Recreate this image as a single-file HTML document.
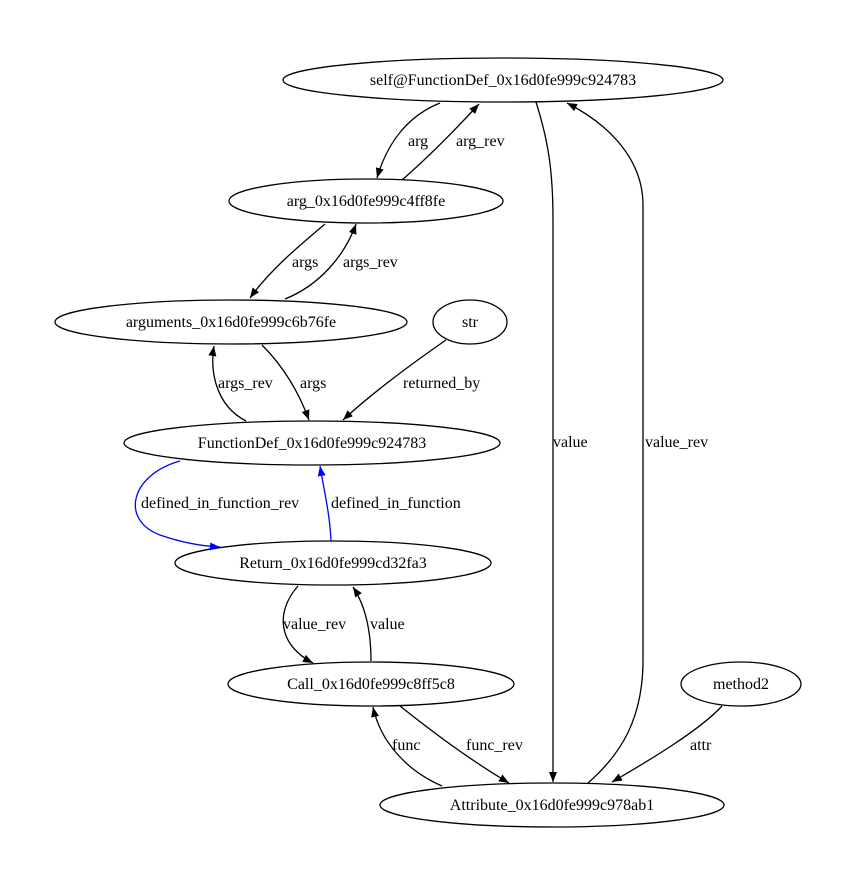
<!DOCTYPE html>
<html><head><meta charset="utf-8"><style>
html,body{margin:0;padding:0;background:#fff;}
svg{display:block;}
text{font-family:"Liberation Serif",serif;font-size:16px;fill:#000;}
</style></head><body>
<svg width="855" height="886" viewBox="0 0 855 886" xmlns="http://www.w3.org/2000/svg">
<defs>
<marker id="a" markerWidth="10" markerHeight="8" refX="10" refY="4" orient="auto" markerUnits="userSpaceOnUse"><polygon points="0,0 10,4 0,8" fill="#000"/></marker>
<marker id="b" markerWidth="10" markerHeight="8" refX="10" refY="4" orient="auto" markerUnits="userSpaceOnUse"><polygon points="0,0 10,4 0,8" fill="#00f"/></marker>
</defs>
<g fill="none" stroke="#000" stroke-width="1.3">
<ellipse cx="503" cy="80" rx="220" ry="22"/>
<ellipse cx="366" cy="201" rx="137" ry="22"/>
<ellipse cx="231" cy="322" rx="176" ry="22"/>
<ellipse cx="470" cy="322" rx="37" ry="22"/>
<ellipse cx="312" cy="443" rx="188" ry="22"/>
<ellipse cx="333" cy="563" rx="158" ry="22"/>
<ellipse cx="371" cy="684" rx="143" ry="22"/>
<ellipse cx="741" cy="684" rx="60" ry="22"/>
<ellipse cx="552" cy="805" rx="172" ry="22"/>
</g>
<g fill="none" stroke="#000" stroke-width="1.3" marker-end="url(#a)">
<path d="M440,103 C410,115 388,140 377,178"/>
<path d="M402,180 C425,160 455,130 479,104"/>
<path d="M325,224 C300,245 270,270 250,298"/>
<path d="M285,299 C320,285 345,255 356,224"/>
<path d="M246,421 C215,405 210,370 214,346"/>
<path d="M262,345 C282,365 298,390 309,420"/>
<path d="M446,340 C410,365 370,395 343,420"/>
<path d="M536,102 C548,140 553,170 553,220 L553,782"/>
<path d="M588,783 C620,755 643,720 643,660 L643,205 C643,160 610,125 567,103"/>
<path d="M298,586 C275,612 278,645 313,663"/>
<path d="M371,661 C371,630 365,605 353,587"/>
<path d="M442,786 C405,770 380,740 373,707"/>
<path d="M400,706 C430,730 470,760 509,783"/>
<path d="M722,706 C700,730 650,760 612,782"/>
</g>
<g fill="none" stroke="#00f" stroke-width="1.3" marker-end="url(#b)">
<path d="M180,461 C130,475 120,520 160,535 C180,542 200,546 220,547"/>
<path d="M331,541 C330,515 324,490 320,466"/>
</g>
<g text-anchor="middle">
<text x="503" y="85">self@FunctionDef_0x16d0fe999c924783</text>
<text x="366" y="206">arg_0x16d0fe999c4ff8fe</text>
<text x="231" y="327">arguments_0x16d0fe999c6b76fe</text>
<text x="470" y="327">str</text>
<text x="312" y="448">FunctionDef_0x16d0fe999c924783</text>
<text x="333" y="568">Return_0x16d0fe999cd32fa3</text>
<text x="371" y="689">Call_0x16d0fe999c8ff5c8</text>
<text x="741" y="689">method2</text>
<text x="552" y="810">Attribute_0x16d0fe999c978ab1</text>
</g>
<g>
<text x="408" y="146">arg</text>
<text x="456" y="146">arg_rev</text>
<text x="292" y="267">args</text>
<text x="343" y="267">args_rev</text>
<text x="218" y="388">args_rev</text>
<text x="300" y="388">args</text>
<text x="403" y="388">returned_by</text>
<text x="553" y="447">value</text>
<text x="645" y="447">value_rev</text>
<text x="141" y="508">defined_in_function_rev</text>
<text x="331" y="508">defined_in_function</text>
<text x="283" y="629">value_rev</text>
<text x="370" y="629">value</text>
<text x="392" y="750">func</text>
<text x="466" y="750">func_rev</text>
<text x="690" y="750">attr</text>
</g>
</svg>
</body></html>
